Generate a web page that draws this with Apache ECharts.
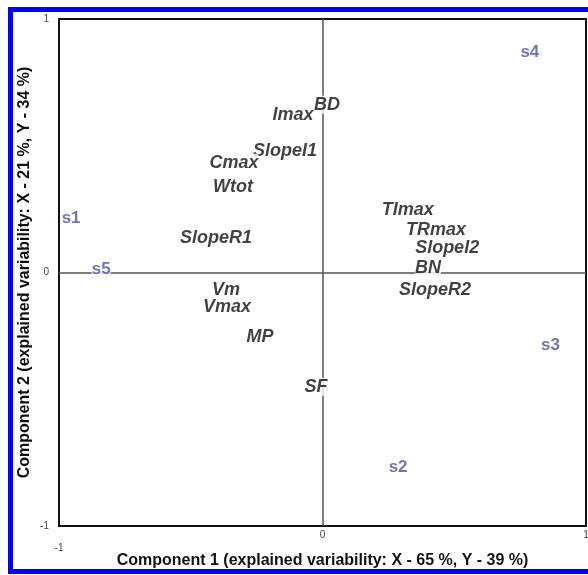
<!DOCTYPE html>
<html><head><meta charset="utf-8">
<script src="https://cdn.jsdelivr.net/npm/echarts@6/dist/echarts.min.js"></script>
<style>html,body{margin:0;padding:0;background:#fff;overflow:hidden}#c{width:588px;height:575px}</style>
</head><body><div id="c"></div>
<script>
const varNames = ['BD','Imax','SlopeI1','Cmax','Wtot','SlopeR1','TImax','TRmax','SlopeI2','BN','SlopeR2','Vm','Vmax','MP','SF'];
const varX = [0.017,-0.112,-0.142,-0.336,-0.340,-0.404,0.324,0.431,0.473,0.400,0.427,-0.366,-0.362,-0.237,-0.025];
const varY = [0.662,0.622,0.480,0.433,0.338,0.137,0.247,0.169,0.098,0.019,-0.068,-0.068,-0.135,-0.253,-0.451];
const sampleNames = ['s1','s2','s3','s4','s5'];
const sampleX = [-0.954,0.287,0.865,0.787,-0.840];
const sampleY = [0.212,-0.770,-0.289,0.867,0.011];
const axisMin = -1, axisMax = 1, axisStep = 1;
const xTitle = 'Component 1 (explained variability: X - 65 %, Y - 39 %)';
const yTitle = 'Component 2 (explained variability: X - 21 %, Y - 34 %)';

const FONT = '"Liberation Sans", Arial, sans-serif';
const chart = echarts.init(document.getElementById('c'));
chart.setOption({
  animation: false,
  backgroundColor: '#fff',
  grid: {left: 59, top: 19, right: 2, bottom: 49, show: true, borderColor: '#111', borderWidth: 2, backgroundColor: 'transparent', containLabel: false, outerBoundsMode: 'none'},
  xAxis: {
    type: 'value', min: axisMin, max: axisMax, interval: axisStep,
    axisLine: {show: false}, axisTick: {show: false}, splitLine: {show: false},
    axisLabel: {
      margin: 4, color: '#444', fontSize: 10, fontFamily: FONT,
      formatter: v => v === -1 ? '{low|-1}' : String(v),
      rich: {low: {padding: [13, 0, 0, 0], color: '#444', fontSize: 10, fontFamily: FONT}}
    },
    name: xTitle, nameLocation: 'middle', nameGap: 27, nameMoveOverlap: false,
    nameTextStyle: {fontSize: 16, fontWeight: 'bold', color: '#111', fontFamily: FONT}
  },
  yAxis: {
    type: 'value', min: axisMin, max: axisMax, interval: axisStep,
    axisLine: {show: false}, axisTick: {show: false}, splitLine: {show: false},
    axisLabel: {margin: 10, color: '#444', fontSize: 10, fontFamily: FONT},
    name: yTitle, nameLocation: 'middle', nameGap: 26, nameMoveOverlap: false,
    nameTextStyle: {fontSize: 16, fontWeight: 'bold', color: '#111', fontFamily: FONT}
  },
  graphic: [{
    type: 'rect', z: 100, silent: true,
    shape: {x: 10.5, y: 9.5, width: 640, height: 562},
    style: {fill: null, stroke: '#0000ff', lineWidth: 5}
  }],
  series: [
    {
      type: 'scatter', z: 1, silent: true, data: [],
      markLine: {
        silent: true, symbol: 'none', animation: false,
        lineStyle: {color: '#555', width: 1.5, type: 'solid'},
        label: {show: false},
        data: [{xAxis: 0}, {yAxis: 0}]
      }
    },
    {
      type: 'scatter', z: 5, silent: true,
      symbolSize: 1, itemStyle: {color: 'rgba(0,0,0,0)'},
      data: varNames.map((n, i) => ({name: n, value: [varX[i], varY[i]]})),
      label: {show: true, position: 'inside', formatter: '{b}', color: '#111', fontSize: 18, fontWeight: 'bold', fontStyle: 'italic', fontFamily: FONT, backgroundColor: '#fff'}
    },
    {
      type: 'scatter', z: 5, silent: true,
      symbolSize: 1, itemStyle: {color: 'rgba(0,0,0,0)'},
      data: sampleNames.map((n, i) => ({name: n, value: [sampleX[i], sampleY[i]]})),
      label: {show: true, position: 'inside', formatter: '{b}', color: '#4b52a3', fontSize: 17, fontWeight: 'bold', fontFamily: FONT, backgroundColor: '#fff'}
    }
  ]
});
</script></body></html>
